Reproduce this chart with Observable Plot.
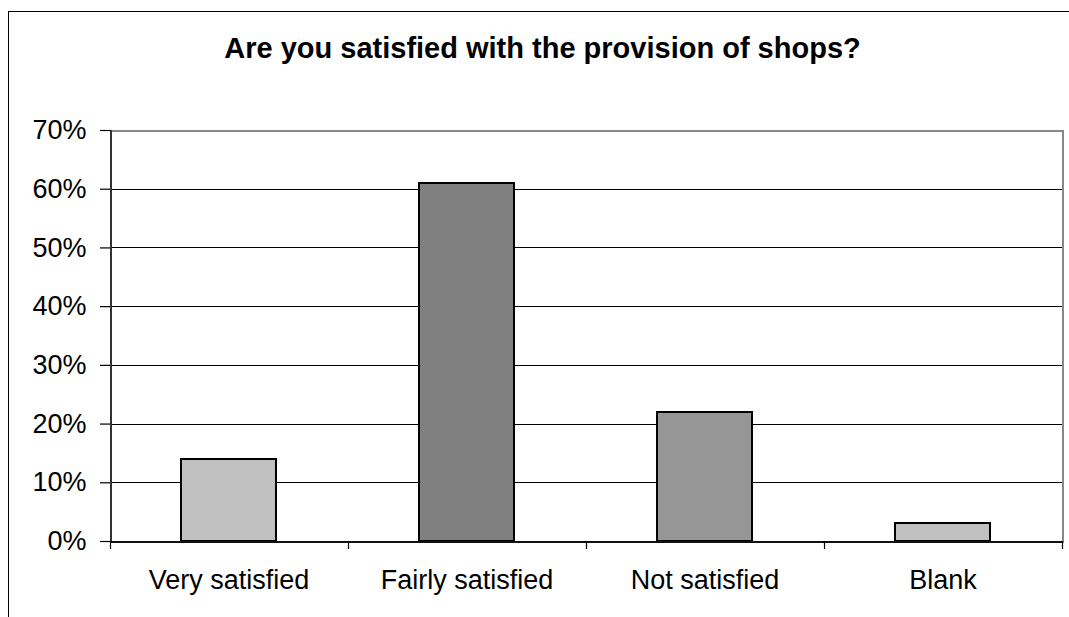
<!DOCTYPE html>
<html>
<head>
<meta charset="utf-8">
<script src="https://cdn.jsdelivr.net/npm/d3@7"></script>
<script src="https://cdn.jsdelivr.net/npm/@observablehq/plot@0.6"></script>
<style>
  html, body { margin: 0; padding: 0; background: #fff; }
  body { width: 1069px; height: 617px; overflow: hidden; position: relative;
         font-family: "Liberation Sans", Arial, sans-serif; }
  #frame { position: absolute; left: 8px; top: 11px; width: 1200px; height: 800px;
           border-left: 1px solid #000; border-top: 1px solid #000; pointer-events: none; }
  #head { position: relative; height: 100px; }
  #title { position: absolute; left: 542.5px; top: 33.5px; transform: translateX(-50%);
           white-space: nowrap; font-weight: bold; font-size: 29px; line-height: 29px; color: #000; }
  #chart { position: relative; }
</style>
</head>
<body>
<div id="frame"></div>
<div id="head"><div id="title">Are you satisfied with the provision of shops?</div></div>
<div id="chart"></div>
<script>
const categories = ["Very satisfied", "Fairly satisfied", "Not satisfied", "Blank"];
const values = [0.14, 0.61, 0.22, 0.03];
const barColors = ["#c0c0c0", "#808080", "#969696", "#c0c0c0"];
const yTicks = [0, 0.1, 0.2, 0.3, 0.4, 0.5, 0.6, 0.7];
const gridTicks = [0.1, 0.2, 0.3, 0.4, 0.5, 0.6];

const data = categories.map((c, i) => ({category: c, value: values[i]}));

function boundaryTicks(index, scales, values, dimensions) {
  const x = scales.x;
  const cats = x.domain ? x.domain() : categories;
  const bw = typeof x.bandwidth === "function" ? x.bandwidth()
           : (scales.scales && scales.scales.x && scales.scales.x.bandwidth) || 0;
  const step = x(cats[1]) - x(cats[0]);
  const centers = cats.map(c => x(c) + bw / 2);
  const edges = centers.map(c => c - step / 2).concat([centers[centers.length - 1] + step / 2]);
  const y0 = dimensions.height - dimensions.marginBottom;
  const g = d3.create("svg:g").attr("stroke", "#000").attr("stroke-width", 1.2);
  for (const e of edges) {
    g.append("line").attr("x1", Math.round(e) + 0.5).attr("x2", Math.round(e) + 0.5)
      .attr("y1", y0).attr("y2", y0 + 8);
  }
  return g.node();
}

const plot = Plot.plot({
  width: 1069,
  height: 517,
  marginTop: 30,
  marginBottom: 76,
  marginLeft: 110,
  marginRight: 7,
  style: {fontFamily: '"Liberation Sans", Arial, sans-serif', fontSize: "27px", background: "transparent", color: "#000"},
  x: {type: "band", domain: categories, paddingInner: 0.6, paddingOuter: 0.3},
  y: {domain: [0, 0.7]},
  color: {type: "ordinal", domain: categories, range: barColors},
  marks: [
    Plot.ruleY(gridTicks, {stroke: "#000", strokeWidth: 1, shapeRendering: "crispEdges"}),
    Plot.barY(data, {x: "category", y: "value", fill: "category", stroke: "#000", strokeWidth: 2, shapeRendering: "crispEdges"}),
    Plot.ruleY([0.7], {stroke: "#888", strokeWidth: 2, shapeRendering: "crispEdges"}),
    Plot.frame({anchor: "right", stroke: "#888", strokeWidth: 2, shapeRendering: "crispEdges"}),
    Plot.frame({anchor: "left", stroke: "#333", strokeWidth: 2, shapeRendering: "crispEdges"}),
    Plot.ruleY([0], {stroke: "#111", strokeWidth: 2, shapeRendering: "crispEdges"}),
    Plot.axisY({ticks: yTicks, tickFormat: d3.format(".0%"), tickSize: 10, tickPadding: 14,
                fontSize: 27, stroke: "#000", strokeWidth: 1.2, label: null}),
    Plot.axisX({tickSize: 0, tickPadding: 28, fontSize: 27, label: null}),
    boundaryTicks
  ]
});
document.getElementById("chart").appendChild(plot);
</script>
</body>
</html>
